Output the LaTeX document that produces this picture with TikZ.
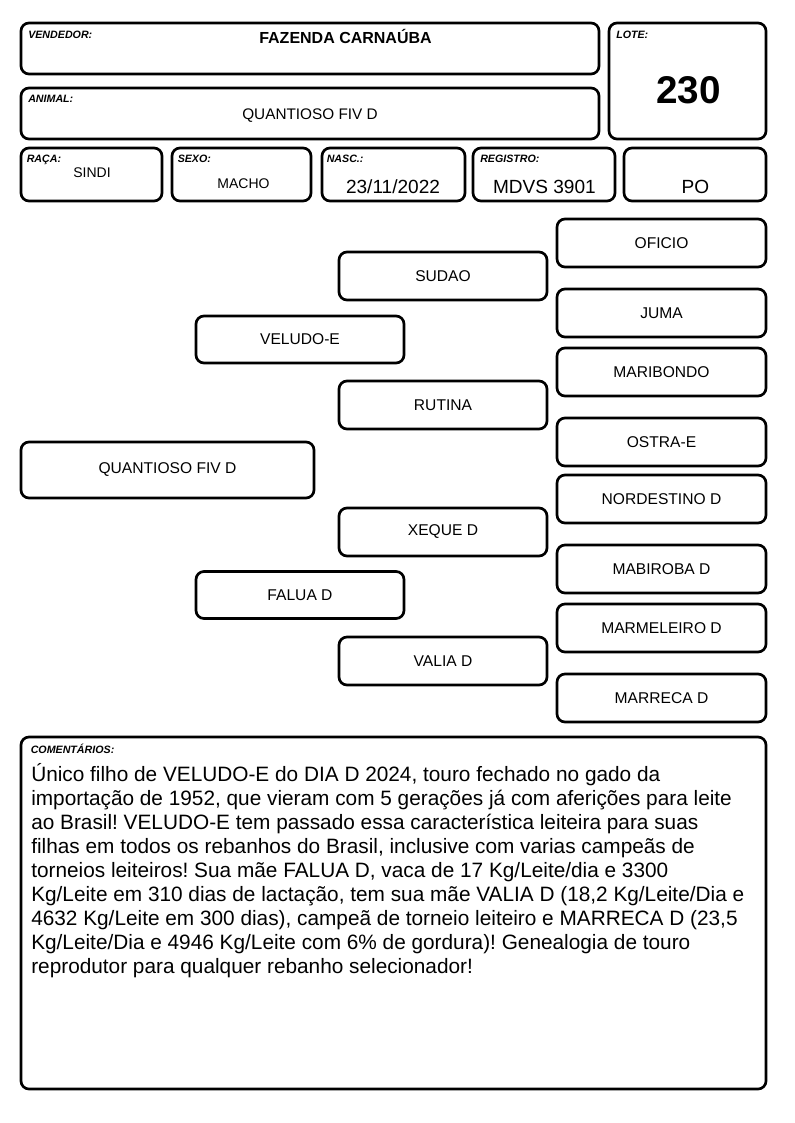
\documentclass[tikz,border=0pt]{standalone}
\usepackage{fontspec}
\setmainfont{Liberation Sans}
\frenchspacing
\begin{document}
\begin{tikzpicture}[x=0.75pt,y=-0.75pt]
        \tikzstyle{every node}=[inner sep=0pt]
        \tikzstyle{frame}=[draw,line width=2pt,rounded corners=6pt]
        \tikzstyle{tag}=[anchor=base west,font=\fontsize{8}{9}\selectfont\bfseries\itshape]
        \tikzstyle{value}=[anchor=base,font=\fontsize{10.5}{12}\selectfont]
        \tikzstyle{bigvalue}=[anchor=base,font=\fontsize{14.3}{16}\selectfont]
        \tikzstyle{ancestor}=[frame,font=\fontsize{11.7}{13}\selectfont,minimum width=156pt,minimum height=36pt]
        \tikzstyle{subject}=[ancestor,minimum width=219.75pt,minimum height=42pt]
        \useasboundingbox (0,0) rectangle (794,1123);
        \node[frame,minimum width=433.5pt,minimum height=38.25pt] (vendedor) at (310,48.5) {};
        \node[frame,minimum width=117.75pt,minimum height=87pt] (lote) at (687.5,81) {};
        \node[frame,minimum width=433.5pt,minimum height=38.25pt] (animal) at (310,113.5) {};
        \node[frame,minimum width=105.75pt,minimum height=39.75pt] (raca) at (91.5,174.5) {};
        \node[frame,minimum width=104.25pt,minimum height=39.75pt] (sexo) at (241.5,174.5) {};
        \node[frame,minimum width=107.25pt,minimum height=39.75pt] (nasc) at (393.5,174.5) {};
        \node[frame,minimum width=106.5pt,minimum height=39.75pt] (registro) at (544,174.5) {};
        \node[frame,minimum width=106.5pt,minimum height=39.75pt] (po) at (695,174.5) {};
        \node[tag] (vendedortag) at (28,39) {VENDEDOR:};
        \node[tag] (lotetag) at (616,39) {LOTE:};
        \node[tag] (animaltag) at (28,103) {ANIMAL:};
        \node[tag] (racatag) at (26.5,162.5) {RAÇA:};
        \node[tag] (sexotag) at (177.5,163) {SEXO:};
        \node[tag] (nasctag) at (326.5,163) {NASC.:};
        \node[tag] (registrotag) at (480,163) {REGISTRO:};
        \node[anchor=base,font=\fontsize{12}{14}\selectfont\bfseries] (fazenda) at (345.5,43.3) {FAZENDA CARNAÚBA};
        \node[anchor=base,font=\fontsize{29}{32}\selectfont\bfseries] (numero) at (688.5,104) {230};
        \node[anchor=base,font=\fontsize{11.5}{13}\selectfont] (nome) at (310,119.3) {QUANTIOSO FIV D};
        \node[value] (sindi) at (92,177.7) {SINDI};
        \node[value] (macho) at (243.5,189) {MACHO};
        \node[bigvalue] (data) at (393,194) {23/11/2022};
        \node[bigvalue] (mdvs) at (544.4,194) {MDVS 3901};
        \node[bigvalue] (puro) at (695.4,193.5) {PO};
        \node[subject] (quantioso) at (167.5,470) {QUANTIOSO FIV D};
        \node[ancestor,minimum height=35.25pt] (veludo) at (300,339.5) {VELUDO-E};
        \node[ancestor,minimum height=35.25pt] (falua) at (300,595) {FALUA D};
        \node[ancestor] (sudao) at (443,276) {SUDAO};
        \node[ancestor] (rutina) at (443,405) {RUTINA};
        \node[ancestor] (xeque) at (443,532) {XEQUE D};
        \node[ancestor] (valia) at (443,661) {VALIA D};
        \node[ancestor,minimum width=156.75pt] (oficio) at (661.5,243) {OFICIO};
        \node[ancestor,minimum width=156.75pt] (juma) at (661.5,313) {JUMA};
        \node[ancestor,minimum width=156.75pt] (maribondo) at (661.5,372) {MARIBONDO};
        \node[ancestor,minimum width=156.75pt] (ostra) at (661.5,442) {OSTRA-E};
        \node[ancestor,minimum width=156.75pt] (nordestino) at (661.5,499) {NORDESTINO D};
        \node[ancestor,minimum width=156.75pt] (mabiroba) at (661.5,569) {MABIROBA D};
        \node[ancestor,minimum width=156.75pt] (marmeleiro) at (661.5,628) {MARMELEIRO D};
        \node[ancestor,minimum width=156.75pt] (marreca) at (661.5,698) {MARRECA D};
        \node[frame,minimum width=558.75pt,minimum height=264pt] (comentarios) at (393.5,913) {};
        \node[tag] (comentariostag) at (30.5,753) {COMENTÁRIOS:};
        \node[anchor=north west,align=left,font=\fontsize{15.6}{18}\selectfont] (texto) at (31,763) {Único filho de VELUDO-E do DIA D 2024, touro fechado no gado da\\
            importação de 1952, que vieram com 5 gerações já com aferições para leite\\
            ao Brasil! VELUDO-E tem passado essa característica leiteira para suas\\
            filhas em todos os rebanhos do Brasil, inclusive com varias campeãs de\\
            torneios leiteiros! Sua mãe FALUA D, vaca de 17 Kg/Leite/dia e 3300\\
            Kg/Leite em 310 dias de lactação, tem sua mãe VALIA D (18,2 Kg/Leite/Dia e\\
            4632 Kg/Leite em 300 dias), campeã de torneio leiteiro e MARRECA D (23,5\\
            Kg/Leite/Dia e 4946 Kg/Leite com 6\% de gordura)! Genealogia de touro\\
            reprodutor para qualquer rebanho selecionador!};
    \end{tikzpicture}
\end{document}
